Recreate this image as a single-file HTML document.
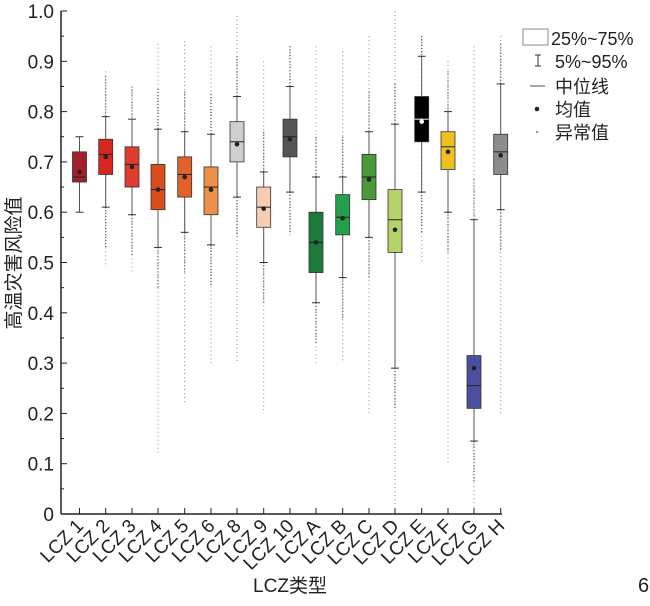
<!DOCTYPE html>
<html><head><meta charset="utf-8"><style>
body{margin:0;background:#fff;width:650px;height:601px;overflow:hidden}
text{font-family:"Liberation Sans","Noto Sans CJK SC",sans-serif;fill:#222}
</style></head><body>
<svg id="s" width="650" height="601" xmlns="http://www.w3.org/2000/svg"></svg>
<script>
const s=document.getElementById('s');let h='';
const Y=v=>514-503*v;
const xs=[79.5,105.7,132,158,184.7,211,237,263.7,290,316,342.7,369,395,421.7,448,474,500.7];
const names=['1','2','3','4','5','6','8','9','10','A','B','C','D','E','F','G','H'];
const d=[
[.60,.66,.67,.72,.75,.68,'#a3202a',.6,.75],
[.61,.675,.715,.745,.79,.71,'#d7261e',.49,.88],
[.595,.65,.695,.73,.785,.69,'#e03c2f',.48,.85],
[.53,.605,.645,.695,.765,.645,'#d84d1c',.12,.935],
[.56,.63,.675,.71,.76,.67,'#e3612b',.22,.94],
[.535,.595,.65,.69,.755,.645,'#ec8f48',.3,.93],
[.63,.70,.74,.78,.83,.735,'#cfcfcf',.3,.99],
[.50,.57,.61,.65,.68,.607,'#f8cdb3',.2,.9],
[.64,.71,.75,.785,.85,.745,'#555555',.55,.93],
[.42,.48,.54,.60,.67,.54,'#1b7a3a',.3,.93],
[.47,.555,.59,.635,.67,.588,'#22a04a',.3,.92],
[.55,.625,.67,.715,.76,.665,'#4a9a3a',.2,.95],
[.29,.52,.585,.645,.775,.565,'#b5d36a',.02,1.0],
[.64,.74,.785,.83,.91,.78,'#000000',.5,.95],
[.60,.685,.73,.76,.80,.72,'#f2bf20',.1,.9],
[.145,.21,.255,.315,.585,.29,'#4a4fa0',0,.93],
[.605,.675,.72,.755,.855,.713,'#8c8c8c',.2,.95]];
d.forEach((b,i)=>{const x=xs[i],w=7;
h+=`<line x1="${x}" x2="${x}" y1="${Y(b[8])}" y2="${Y(b[7])}" stroke="#888" stroke-width="1" stroke-dasharray="1 3"/>`;
const up=Math.min(b[8],b[4]+.08),dn=Math.max(b[7],b[0]-.08);
h+=`<line x1="${x}" x2="${x}" y1="${Y(up)}" y2="${Y(b[4])}" stroke="#444" stroke-width="1.2" stroke-dasharray="1 2"/>`;
h+=`<line x1="${x}" x2="${x}" y1="${Y(b[0])}" y2="${Y(dn)}" stroke="#444" stroke-width="1.2" stroke-dasharray="1 2"/>`;
h+=`<line x1="${x}" x2="${x}" y1="${Y(b[4])}" y2="${Y(b[0])}" stroke="#555" stroke-width="1"/>`;
h+=`<line x1="${x-4}" x2="${x+4}" y1="${Y(b[4])}" y2="${Y(b[4])}" stroke="#333"/><line x1="${x-4}" x2="${x+4}" y1="${Y(b[0])}" y2="${Y(b[0])}" stroke="#333"/>`;
h+=`<rect x="${x-w}" y="${Y(b[3])}" width="${2*w}" height="${Y(b[1])-Y(b[3])}" fill="${b[6]}" stroke="#333" stroke-width="0.8"/>`;
const mc=i==13?'#fff':'#222';
h+=`<line x1="${x-w}" x2="${x+w}" y1="${Y(b[2])}" y2="${Y(b[2])}" stroke="${mc}" stroke-width="1"/>`;
h+=`<circle cx="${x}" cy="${Y(b[5])}" r="2.3" fill="${mc}"/>`;
h+=`<line x1="${x}" x2="${x}" y1="514" y2="508" stroke="#222"/>`;
h+=`<text transform="translate(${x+5},527) rotate(-45)" text-anchor="end" font-size="19">LCZ ${names[i]}</text>`;
});
h+=`<line x1="61" x2="502" y1="514" y2="514" stroke="#222" stroke-width="1.5"/><line x1="61" x2="61" y1="11" y2="514" stroke="#222" stroke-width="1.5"/>`;
for(let k=0;k<=20;k++){const v=k/20,y=Y(v);h+=`<line x1="61" x2="${k%2?64:67}" y1="${y}" y2="${y}" stroke="#222"/>`;
if(k%2==0)h+=`<text x="54" y="${y+7}" text-anchor="end" font-size="19">${k==0?'0':(v).toFixed(1)}</text>`;}
h+=`<text x="290" y="592" text-anchor="middle" font-size="19">LCZ类型</text>`;
h+=`<text transform="translate(20,263) rotate(-90)" text-anchor="middle" font-size="19">高温灾害风险值</text>`;
h+=`<text x="638" y="592" font-size="20">6</text>`;
h+=`<rect x="523" y="29" width="25" height="16" fill="#fff" stroke="#888"/><text x="551" y="45" font-size="18">25%~75%</text>`;
h+=`<line x1="538" x2="538" y1="55" y2="66" stroke="#333"/><line x1="535" x2="541" y1="55" y2="55" stroke="#333"/><line x1="535" x2="541" y1="66" y2="66" stroke="#333"/><text x="555" y="68" font-size="18">5%~95%</text>`;
h+=`<line x1="530" x2="545" y1="86" y2="86" stroke="#888" stroke-width="1.5"/><text x="555" y="93" font-size="18">中位线</text>`;
h+=`<circle cx="537" cy="109" r="2.3" fill="#222"/><text x="555" y="116" font-size="18">均值</text>`;
h+=`<circle cx="537" cy="132" r="0.9" fill="#444"/><text x="555" y="139" font-size="18">异常值</text>`;
s.innerHTML=h;
</script>
</body></html>
